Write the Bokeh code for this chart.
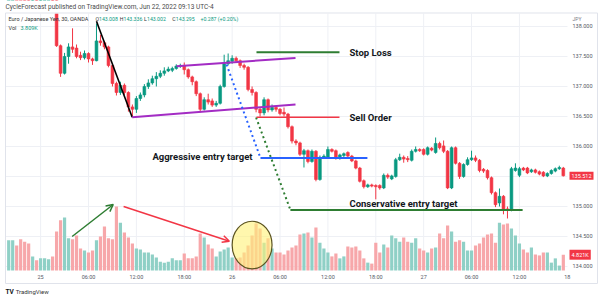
from bokeh.plotting import figure
from bokeh.models import Range1d, FixedTicker, NumeralTickFormatter, Label, Arrow, OpenHead, ColumnDataSource
from bokeh.embed import file_html
from bokeh.resources import INLINE

# ---------------- data (EUR/JPY 30 min, OANDA) ----------------
opens = [
    138.52, 138.60, 138.68, 138.62, 138.54, 138.47, 138.41, 138.45, 138.42, 138.46, 138.49, 138.51,
    138.44, 137.68, 137.22, 137.50, 137.66, 137.64, 137.52, 137.48, 137.55, 137.46,
    137.43, 137.76, 137.73, 137.66, 137.35, 137.05, 136.90,
    137.02, 136.90, 136.66, 136.62, 136.80, 136.86, 137.00, 137.06, 137.13, 137.17, 137.22, 137.26,
    137.27, 137.30, 137.34, 137.35, 137.28, 137.16, 137.08, 136.88, 136.62, 136.78, 136.76, 136.69,
    136.72, 137.00, 137.38, 137.42, 137.47, 137.43, 137.35, 137.32, 136.95, 136.90, 136.62, 136.56,
    136.78, 136.61, 136.65, 136.62, 136.57, 136.54, 136.33, 136.09, 136.06, 135.87, 135.93, 135.75,
    135.92, 135.45, 135.82, 135.82, 135.95, 135.93, 135.80, 135.85, 135.90, 135.84, 135.76, 135.64,
    135.43, 135.33, 135.36, 135.35, 135.35, 135.31, 135.52, 135.46, 135.50, 135.78, 135.82, 135.80,
    135.77, 135.92, 135.95, 135.95, 135.87, 135.97, 135.90, 136.05, 136.01, 135.92, 135.31, 135.98,
    135.72, 135.50, 135.70, 135.78, 135.81, 135.77, 135.62, 135.60, 135.48, 135.23, 135.06, 135.17,
    134.96, 134.94, 135.60, 135.52, 135.64, 135.64, 135.58, 135.61, 135.58, 135.57, 135.51, 135.55,
    135.59, 135.63, 135.64,
]
highs = [
    138.64, 138.72, 138.71, 138.65, 138.57, 138.50, 138.48, 138.47, 138.49, 138.52, 138.54, 138.53,
    138.47, 137.70, 137.56, 137.72, 137.97, 137.70, 137.58, 137.60, 137.57, 137.48,
    138.05, 137.86, 137.76, 137.68, 137.38, 137.08, 137.08,
    137.05, 136.92, 136.70, 136.84, 136.90, 137.04, 137.12, 137.18, 137.24, 137.27, 137.32, 137.33,
    137.33, 137.37, 137.38, 137.40, 137.30, 137.18, 137.10, 136.90, 136.82, 136.88, 136.80, 136.76,
    137.03, 137.53, 137.55, 137.52, 137.50, 137.45, 137.38, 137.34, 137.00, 136.92, 136.64, 136.82,
    136.80, 136.70, 136.67, 136.64, 136.65, 136.56, 136.35, 136.12, 136.08, 135.96, 135.95, 135.95,
    135.94, 135.85, 135.87, 136.00, 135.97, 135.95, 135.88, 135.90, 135.92, 135.86, 135.78, 135.66,
    135.45, 135.38, 135.38, 135.37, 135.37, 135.55, 135.55, 135.53, 135.81, 135.88, 135.85, 135.84,
    135.95, 136.00, 135.97, 135.97, 136.00, 135.99, 136.15, 136.08, 136.10, 135.94, 136.00, 136.00,
    135.74, 135.72, 135.82, 135.93, 135.85, 135.79, 135.64, 135.62, 135.50, 135.25, 135.30, 135.19,
    135.00, 135.66, 135.72, 135.66, 135.66, 135.66, 135.63, 135.63, 135.60, 135.59, 135.57, 135.62,
    135.65, 135.68, 135.66,
]
lows = [
    138.49, 138.57, 138.58, 138.50, 138.43, 138.37, 138.38, 138.39, 138.40, 138.44, 138.47, 138.40,
    137.66, 137.16, 137.20, 137.38, 137.56, 137.47, 137.44, 137.45, 137.40, 137.36,
    137.42, 137.68, 137.62, 137.32, 137.00, 136.85, 136.86,
    136.86, 136.58, 136.50, 136.56, 136.76, 136.82, 136.96, 137.03, 137.00, 137.14, 137.18, 137.24,
    137.24, 137.28, 137.31, 137.20, 137.13, 137.02, 136.84, 136.57, 136.60, 136.70, 136.66, 136.66,
    136.70, 136.98, 137.35, 137.38, 137.40, 137.31, 137.28, 136.92, 136.85, 136.57, 136.50, 136.52,
    136.57, 136.58, 136.58, 136.52, 136.50, 136.30, 136.05, 136.02, 135.84, 135.65, 135.72, 135.73,
    135.42, 135.43, 135.80, 135.80, 135.90, 135.78, 135.78, 135.82, 135.82, 135.74, 135.62, 135.40,
    135.30, 135.31, 135.32, 135.12, 135.28, 135.29, 135.46, 135.44, 135.48, 135.76, 135.73, 135.74,
    135.75, 135.90, 135.91, 135.85, 135.85, 135.92, 135.88, 135.95, 135.89, 135.29, 135.29, 135.70,
    135.46, 135.48, 135.68, 135.76, 135.74, 135.57, 135.56, 135.45, 135.20, 134.99, 135.00, 134.87,
    134.80, 134.92, 135.58, 135.49, 135.59, 135.54, 135.56, 135.55, 135.52, 135.49, 135.49, 135.53,
    135.57, 135.61, 135.50,
]
closes = [
    138.60, 138.68, 138.62, 138.54, 138.47, 138.41, 138.45, 138.42, 138.46, 138.49, 138.51, 138.44,
    137.68, 137.22, 137.50, 137.66, 137.62, 137.50, 137.48, 137.55, 137.46, 137.43,
    137.76, 137.73, 137.66, 137.35, 137.05, 136.90, 137.02,
    136.90, 136.66, 136.62, 136.80, 136.86, 137.00, 137.06, 137.13, 137.17, 137.22, 137.26, 137.29,
    137.30, 137.34, 137.35, 137.28, 137.16, 137.08, 136.88, 136.62, 136.78, 136.74, 136.69, 136.72,
    137.00, 137.38, 137.43, 137.47, 137.43, 137.35, 137.32, 136.95, 136.90, 136.62, 136.56, 136.78,
    136.61, 136.65, 136.62, 136.55, 136.54, 136.33, 136.09, 136.06, 135.87, 135.93, 135.75, 135.92,
    135.45, 135.82, 135.84, 135.95, 135.92, 135.80, 135.86, 135.88, 135.84, 135.76, 135.64, 135.42,
    135.33, 135.36, 135.34, 135.33, 135.31, 135.52, 135.49, 135.51, 135.78, 135.82, 135.79, 135.78,
    135.92, 135.95, 135.93, 135.87, 135.98, 135.94, 136.05, 135.98, 135.92, 135.31, 135.98, 135.72,
    135.50, 135.70, 135.78, 135.81, 135.77, 135.60, 135.59, 135.48, 135.23, 135.03, 135.17, 134.95,
    134.94, 135.63, 135.64, 135.63, 135.61, 135.56, 135.61, 135.57, 135.54, 135.51, 135.55, 135.60,
    135.63, 135.65, 135.512,
]
volumes_k = [
    9.2, 9.2, 7.6, 9.5, 8.8, 8.2, 4.3, 3.1, 3.7, 3.7, 3.4, 4.3,
    11.9, 15.3, 16.2, 9.8, 9.5, 10.7, 6.7, 6.1, 5.5, 6.1,
    9.2, 10.4, 13.4, 9.8, 9.5, 19.5, 14.6,
    11.6, 10.1, 8.2, 6.7, 6.4, 5.5, 5.5, 4.9, 4.0, 2.7, 2.4, 2.7,
    3.7, 3.1, 3.1, 5.2, 3.7, 3.7, 4.3, 11.3, 10.1, 7.9, 6.7, 4.3,
    5.8, 6.4, 7.0, 4.0, 3.7, 4.0, 5.5, 7.6, 10.7, 14.3, 12.8, 8.5,
    9.8, 6.7, 5.5, 5.5, 4.9, 6.1, 7.0, 7.6, 11.0, 11.3, 11.6, 10.1,
    13.1, 8.5, 6.7, 5.5, 4.3, 5.2, 3.7, 4.3, 7.3, 7.0, 7.3, 6.1,
    3.7, 2.4, 2.1, 8.5, 5.5, 7.9, 7.0, 10.7, 9.8, 8.8, 10.1, 8.8,
    8.5, 9.8, 6.7, 6.1, 5.5, 6.7, 7.0, 11.3, 9.8, 13.7, 11.9, 8.8,
    9.2, 8.8, 6.1, 6.1, 7.6, 8.2, 10.1, 11.0, 11.3, 8.5, 14.6, 14.0,
    14.3, 12.8, 10.7, 8.2, 6.4, 5.5, 7.0, 4.9, 4.6, 5.5, 5.5, 2.4,
    3.7, 1.5, 4.821,
]
tick_idx = [8, 20, 32, 44, 56, 68, 80, 92, 104, 116, 128, 140]
tick_labels = ["25", "06:00", "12:00", "18:00", "26", "06:00", "12:00", "18:00",
               "27", "06:00", "12:00", "18"]
price_ticks = [134.0, 134.5, 135.0, 135.5, 136.0, 136.5, 137.0, 137.5, 138.0]

# drawn annotations (bar index, price)
black_x = [22.0, 30.95];  black_y = [138.088, 136.488]
upper_x = [42.06, 71.88]; upper_y = [137.338, 137.475]
lower_x = [30.95, 71.88]; lower_y = [136.488, 136.70]
bdot_x = [54.6, 63.1];    bdot_y = [137.367, 135.808]
aggr_x = [63.1, 89.9];    aggr_y = [135.808, 135.808]
gdot_x = [62.0, 70.6];    gdot_y = [136.483, 134.942]
cons_x = [70.6, 128.8];   cons_y = [134.942, 134.942]
sell_x = [62.1, 82.9];    sell_y = [136.488, 136.488]
stop_x = [62.1, 82.9];    stop_y = [137.572, 137.572]
garrow = [15.9, 134.50, 26.2, 135.033]
rarrow = [28.8, 135.00, 55.3, 134.422]
circle = [61.0, 134.358, 10.0, 0.793]
last_price = 135.512
last_volume = 4.821

# pane geometry (bar index / price units)
PANE_L, PANE_R = -0.80, 140.05          # chart pane edges
PANE_B, PANE_T = 133.9333, 138.2167
X_RANGE = (-2.055, 148.82)              # whole canvas
Y_RANGE = (133.45, 138.4333)
VOL_RANGE = (-8.845, 82.35)

GREEN = "#089981"
RED = "#f23645"
FONT = "Roboto"

idx = list(range(len(closes)))
up = [c >= o for o, c in zip(opens, closes)]
src = ColumnDataSource(dict(
    x=idx, o=opens, h=highs, l=lows, c=closes, v=volumes_k,
    top=[max(o, c) for o, c in zip(opens, closes)],
    bot=[min(o, c) for o, c in zip(opens, closes)],
    col=[GREEN if u else RED for u in up],
    vcol=["#8fd0c6" if u else "#f7a7aa" for u in up],
))

p = figure(width=602, height=299,
           x_range=Range1d(*X_RANGE), y_range=Range1d(*Y_RANGE),
           y_axis_location="right", output_backend="svg", toolbar_location=None,
           min_border_left=0, min_border_right=0, min_border_top=0, min_border_bottom=0)
p.extra_y_ranges = {"vol": Range1d(*VOL_RANGE)}
p.outline_line_color = None
p.background_fill_color = "white"
p.border_fill_color = "white"
p.grid.visible = False

p.xaxis.ticker = FixedTicker(ticks=tick_idx)
p.xaxis.major_label_overrides = {t: lab for t, lab in zip(tick_idx, tick_labels)}
p.xaxis.fixed_location = PANE_B
p.yaxis.ticker = FixedTicker(ticks=price_ticks)
p.yaxis.formatter = NumeralTickFormatter(format="0.000")
p.yaxis.fixed_location = PANE_R
for ax in (p.xaxis[0], p.yaxis[0]):
    ax.axis_line_color = None
    ax.major_tick_line_color = None
    ax.minor_tick_line_color = None
    ax.major_tick_out = 0
    ax.major_tick_in = 0
    ax.minor_tick_out = 0
    ax.major_label_text_font = FONT
    ax.major_label_text_font_size = "5.5px"
    ax.major_label_text_color = "#555a66"
p.xaxis.major_label_standoff = 3
p.yaxis.major_label_standoff = 5

# grid (bounded to the chart pane)
GRID = "#eef0f5"
p.segment(x0=tick_idx[:-1], y0=PANE_B, x1=tick_idx[:-1], y1=PANE_T, line_color=GRID, line_width=1)
p.segment(x0=PANE_L, y0=price_ticks, x1=PANE_R, y1=price_ticks, line_color=GRID, line_width=1)

# volume
p.vbar(x="x", width=0.8, bottom=0, top="v", source=src, y_range_name="vol",
       fill_color="vcol", line_color=None)
# candles
p.segment(x0="x", y0="l", x1="x", y1="h", source=src, line_color="col", line_width=1)
p.vbar(x="x", width=0.7, bottom="bot", top="top", source=src,
       fill_color="col", line_color="col", line_width=0.6)

# the pane ends at its top edge: mask what lies above it
p.quad(left=X_RANGE[0], right=X_RANGE[1], bottom=PANE_T, top=Y_RANGE[1],
       fill_color="white", line_color=None)
# light frame around pane + scales
p.quad(left=PANE_L, right=147.57, bottom=133.717, top=138.225,
       fill_color=None, line_color="#e0e3eb", line_width=1)

# drawings
p.line(black_x, black_y, line_color="black", line_width=1.6)
p.line(upper_x, upper_y, line_color="#a32cc4", line_width=2)
p.line(lower_x, lower_y, line_color="#a32cc4", line_width=2)
p.line(bdot_x, bdot_y, line_color="#2962ff", line_width=2, line_dash="2 3")
p.line(aggr_x, aggr_y, line_color="#2962ff", line_width=2)
p.line(gdot_x, gdot_y, line_color="#2e7d32", line_width=2, line_dash="2 3")
p.line(cons_x, cons_y, line_color="#2e7d32", line_width=2)
p.line(sell_x, sell_y, line_color=RED, line_width=1.6)
p.line(stop_x, stop_y, line_color="#2e7d32", line_width=2)

p.ellipse(x=circle[0], y=circle[1], width=circle[2], height=circle[3],
          fill_color="#fff176", fill_alpha=0.6, line_color="#5c5420", line_width=1.2)

p.add_layout(Arrow(end=OpenHead(size=7, line_color="#2e7d32", line_width=1.5),
                   x_start=garrow[0], y_start=garrow[1], x_end=garrow[2], y_end=garrow[3],
                   line_color="#2e7d32", line_width=1.5))
p.add_layout(Arrow(end=OpenHead(size=7, line_color=RED, line_width=1.5),
                   x_start=rarrow[0], y_start=rarrow[1], x_end=rarrow[2], y_end=rarrow[3],
                   line_color=RED, line_width=1.5))


def lab(x, y, text, size="9.5px", color="#131722", style="bold", align="left", **kw):
    p.add_layout(Label(x=x, y=y, text=text, text_font=FONT, text_font_size=size,
                       text_color=color, text_font_style=style, text_align=align,
                       text_baseline="middle", **kw))


lab(85.4, 137.572, "Stop Loss")
lab(85.4, 136.488, "Sell Order")
lab(61.1, 135.833, "Aggressive entry target", align="right")
lab(85.4, 135.045, "Conservative entry target")

# legend texts inside the pane
lab(-0.05, 138.117, "Euro / Japanese Yen, 30, OANDA", size="5.5px", color="#333", style="normal")
for lx, letter, vx, val in [(21.75, "O", 22.63, "143.008"), (27.85, "H", 28.77, "143.336"),
                            (33.9, "L", 34.66, "143.002"), (40.98, "C", 41.88, "143.295")]:
    lab(lx, 138.117, letter, size="5.2px", color="#333", style="normal")
    lab(vx, 138.117, val, size="5.2px", color=GREEN, style="normal")
lab(48.07, 138.117, "+0.287 (+0.20%)", size="5.2px", color=GREEN, style="normal")
lab(-0.05, 137.967, "Vol", size="5.5px", color="#333", style="normal")
lab(2.96, 137.967, "3.809K", size="5.5px", color=GREEN, style="normal")

# header, footer, price-scale extras
lab(-0.80, 138.333, "CycleForecast published on TradingView.com, Jun 22, 2022 09:13 UTC-4",
    size="6.5px", color="#4a4a4a", style="normal")
lab(-0.80, 133.583, "TV", size="6.5px", color="#131722", style="bold")
lab(1.75, 133.583, "TradingView", size="6px", color="#333", style="normal")
lab(141.3, 138.117, "JPY", size="5px", color="#787b86", style="normal")
lab(140.55, last_price, "135.512", size="5.5px", color="white", style="normal",
    background_fill_color=RED, padding=2)
lab(140.55, last_volume, "4.821K", size="5.5px", color="white", style="normal",
    background_fill_color=RED, padding=2, y_range_name="vol")

open("out.html", "w").write(file_html(p, INLINE))
